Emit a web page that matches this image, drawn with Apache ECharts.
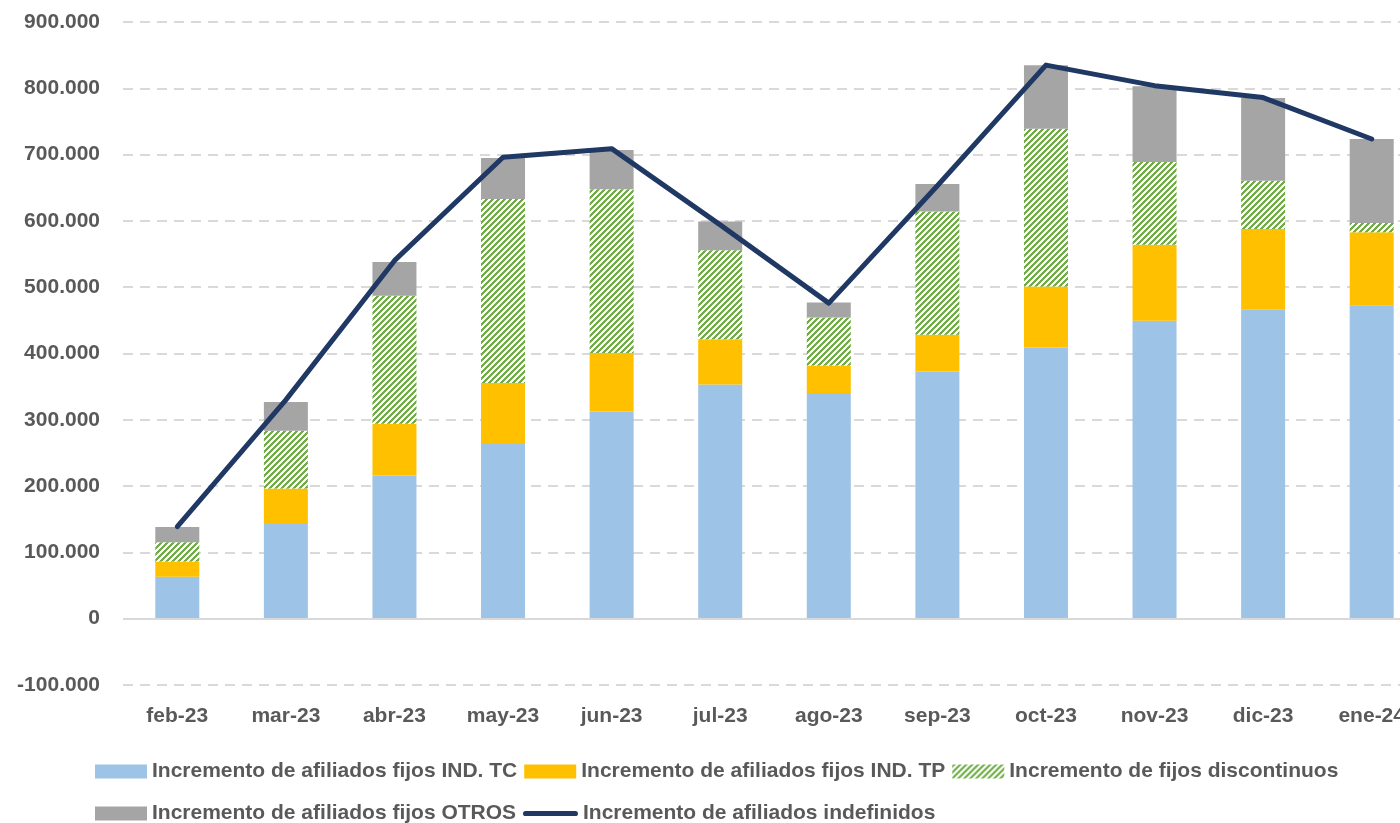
<!DOCTYPE html>
<html>
<head>
<meta charset="utf-8">
<script src="https://cdn.jsdelivr.net/npm/echarts@6/dist/echarts.min.js"></script>
<style>
html,body{margin:0;padding:0;overflow:hidden;background:#fff;}
#c{width:1430px;height:823px;}
</style>
</head>
<body>
<div id="c"></div>
<script>
const categories = ['feb-23','mar-23','abr-23','may-23','jun-23','jul-23','ago-23','sep-23','oct-23','nov-23','dic-23','ene-24'];
const fijosTC = [63300, 142800, 216000, 265000, 312700, 353400, 340400, 373000, 409000, 449500, 466000, 472000];
const fijosTP = [23000, 53700, 78000, 90500, 88000, 68200, 41600, 55400, 92000, 114600, 121800, 111000];
const fijosDiscontinuos = [29000, 87000, 193000, 277500, 247200, 134000, 72400, 185600, 238000, 124800, 72800, 14000];
const fijosOtros = [23000, 43200, 51000, 62000, 59000, 43400, 22600, 41600, 95600, 114100, 124800, 126500];
const indefinidos = [139000, 330000, 540000, 696000, 709000, 594000, 476000, 653000, 835000, 804000, 786000, 723500];

const names = [
  'Incremento de afiliados fijos IND. TC',
  'Incremento de afiliados fijos IND. TP',
  'Incremento de fijos discontinuos',
  'Incremento de afiliados fijos OTROS',
  'Incremento de afiliados indefinidos'
];

function makePattern(){
  const N = 6;
  const c = document.createElement('canvas');
  c.width = N; c.height = N;
  const g = c.getContext('2d');
  const img = g.createImageData(N, N);
  for (let y = 0; y < N; y++) {
    for (let x = 0; x < N; x++) {
      const i = (y * N + x) * 4;
      const on = ((x + y) % N) < 3;
      img.data[i]   = on ? 0x70 : 255;
      img.data[i+1] = on ? 0xad : 255;
      img.data[i+2] = on ? 0x47 : 255;
      img.data[i+3] = 255;
    }
  }
  g.putImageData(img, 0, 0);
  return c;
}
const stripe = {image: makePattern(), repeat: 'repeat'};

const FONT = '"Liberation Sans", Arial, sans-serif';
const TXT = '#595959';

function fmt(v){
  const s = Math.abs(v).toString().replace(/\B(?=(\d{3})+(?!\d))/g, '.');
  return (v < 0 ? '-' : '') + s;
}

const lineIcon = 'path://M0,0h0.01v0.01h-0.01z M0,14h0.01v0.01h-0.01z M2.6,4.4 H52.4 A2.6,2.6 0 0 1 52.4,9.6 H2.6 A2.6,2.6 0 0 1 2.6,4.4 Z';

const chart = echarts.init(document.getElementById('c'), null, {renderer:'canvas'});
const legendText = {color: TXT, fontFamily: FONT, fontWeight: 'bold', fontSize: 21};
chart.setOption({
  animation: false,
  grid: {left: 123, right: 4, top: 22, bottom: 138, containLabel: false},
  legend: [
    {data: [{name: names[0], icon: 'rect'}, {name: names[1], icon: 'rect'}, {name: names[2], icon: 'rect'}],
     left: 90, top: 756, itemWidth: 52, itemHeight: 14, itemGap: 7,
     textStyle: legendText, selectedMode: false},
    {data: [{name: names[3], icon: 'rect'}],
     left: 90, top: 798, itemWidth: 52, itemHeight: 14,
     textStyle: legendText, selectedMode: false},
    {data: [{name: names[4], icon: lineIcon}],
     left: 518, top: 798, itemWidth: 55, itemHeight: 14,
     textStyle: legendText, selectedMode: false}
  ],
  xAxis: {
    type: 'category', data: categories,
    axisLine: {show: false, onZero: false}, axisTick: {show: false},
    axisLabel: {color: TXT, fontFamily: FONT, fontWeight: 'bold', fontSize: 21, margin: 21}
  },
  yAxis: {
    type: 'value', min: -100000, max: 900000, interval: 100000,
    axisLine: {show: false}, axisTick: {show: false},
    axisLabel: {color: TXT, fontFamily: FONT, fontWeight: 'bold', fontSize: 21, margin: 23, formatter: fmt},
    splitLine: {lineStyle: {color: '#d9d9d9', width: 2, type: [10, 7]}}
  },
  series: [
    {name: names[0], type: 'bar', stack: 'a', data: fijosTC, barWidth: 44,
     itemStyle: {color: '#9dc3e6'},
     markLine: {silent: true, symbol: 'none', label: {show: false},
       lineStyle: {color: '#d9d9d9', width: 2, type: 'solid'}, data: [{yAxis: 0}]}},
    {name: names[1], type: 'bar', stack: 'a', data: fijosTP, barWidth: 44, itemStyle: {color: '#ffc000'}},
    {name: names[2], type: 'bar', stack: 'a', data: fijosDiscontinuos, barWidth: 44, itemStyle: {color: stripe}},
    {name: names[3], type: 'bar', stack: 'a', data: fijosOtros, barWidth: 44, itemStyle: {color: '#a5a5a5'}},
    {name: names[4], type: 'line', data: indefinidos, showSymbol: false, symbol: 'none',
     lineStyle: {color: '#1f3864', width: 5, cap: 'round', join: 'round'}, itemStyle: {color: '#1f3864'}, z: 5}
  ]
});
</script>
</body>
</html>
